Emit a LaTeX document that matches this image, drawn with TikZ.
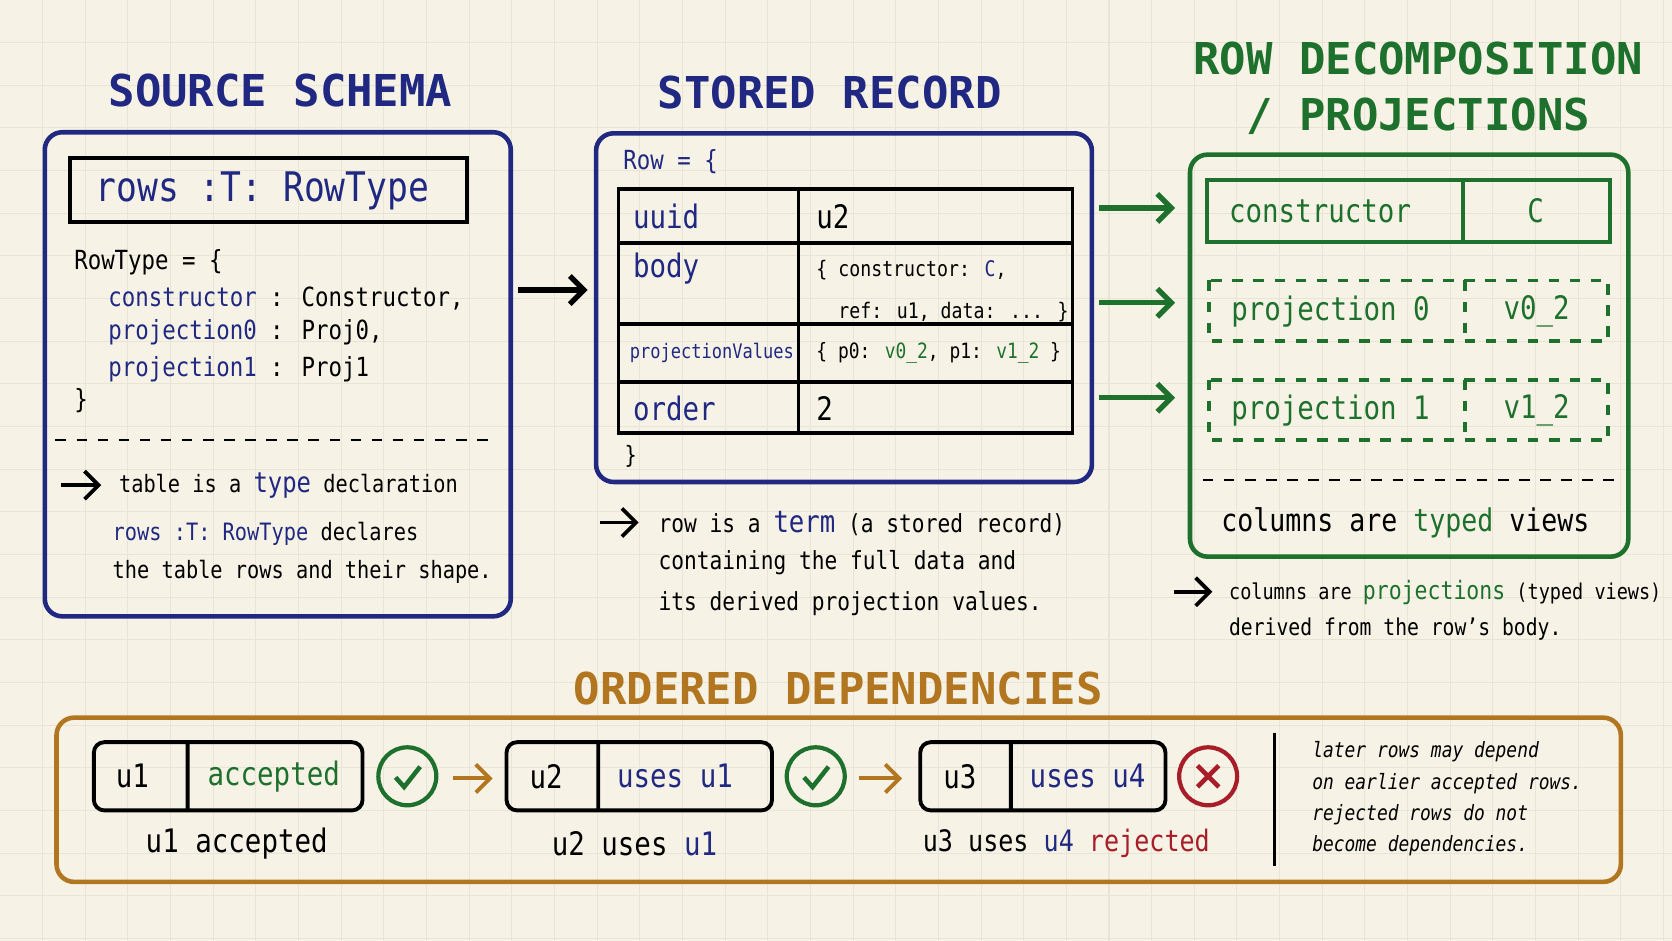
\documentclass[tikz,border=0pt]{standalone}
\usepackage{fontspec}
\setmainfont{DejaVu Sans Mono}[FakeStretch=0.85]
\newfontfamily\titlefont{DejaVu Sans Mono}
\usetikzlibrary{positioning,arrows.meta}

\definecolor{paper}{RGB}{246,243,230}
\definecolor{gridc}{RGB}{232,229,214}
\definecolor{navy}{RGB}{32,40,130}
\definecolor{leaf}{RGB}{30,112,45}
\definecolor{gold}{RGB}{178,118,32}
\definecolor{wine}{RGB}{168,30,40}

\tikzset{
  title/.style={font=\titlefont\bfseries\fontsize{12.5}{16}\selectfont, align=center},
  frame/.style={line width=1.3pt, rounded corners=5pt},
  body/.style={font=\fontsize{6.8}{8}\selectfont, anchor=west, inner sep=0pt},
  cell/.style={font=\fontsize{9.2}{11}\selectfont, anchor=west, inner sep=0pt},
  arr/.style={-{Straight Barb[length=4pt]}, line width=1.1pt},
  ring/.style={circle, draw, line width=1.2pt, minimum size=0.58cm, inner sep=0pt},
}

\begin{document}
\begin{tikzpicture}[x=0.010663cm, y=-0.010663cm]

	\fill[paper] (0,0) rectangle (1568,882);
	\useasboundingbox (0,0) rectangle (1568,882);
	\foreach \g in {40,80,...,1560} \draw[gridc, line width=0.3pt] (\g,0) -- (\g,882);
	\foreach \g in {40,80,...,880} \draw[gridc, line width=0.3pt] (0,\g) -- (1568,\g);

	% titles
	\node[title, text=navy] (tsrc) at (263,85) {SOURCE  SCHEMA};
	\node[title, text=navy] (trec) at (778,87) {STORED  RECORD};
	\node[title, text=leaf] (tdec) at (1330,83) {ROW  DECOMPOSITION\\/ PROJECTIONS};
	\node[title, text=gold] (tdep) at (786,646) {ORDERED  DEPENDENCIES};

	% source schema
	\draw[frame, navy] (42,124) rectangle (479,578);
	\draw[line width=1.1pt] (66,148) rectangle (438,208);
	\node[font=\fontsize{11.6}{14}\selectfont, text=navy] (decl) at (246,179) {rows  :T:  RowType};
	\node[body, font=\fontsize{7.5}{9}\selectfont] (rt0) at (69,246) {RowType = \{};
	\node[body, font=\fontsize{7.5}{9}\selectfont] (rt1) at (101,280) {\textcolor{navy}{constructor} : Constructor,};
	\node[body, font=\fontsize{7.5}{9}\selectfont] (rt2) at (101,312) {\textcolor{navy}{projection0} : Proj0,};
	\node[body, font=\fontsize{7.5}{9}\selectfont] (rt3) at (101,346) {\textcolor{navy}{projection1} : Proj1};
	\node[body, font=\fontsize{7.5}{9}\selectfont] (rt4) at (69,376) {\}};
	\draw[dashed, line width=0.6pt] (52,413) -- (465,413);
	\coordinate (sa) at (57,455);
	\node[body] (snote) at (111,455) {table is a \textcolor{navy}{\fontsize{8}{9}\selectfont type} declaration};
	\draw[arr] (sa) -- ++(38,0);
	\node[body] (sdec1) at (105,501) {\textcolor{navy}{rows :T: RowType} declares};
	\node[body] (sdec2) at (105,536) {the table rows and their shape.};

	\coordinate (big0) at (486,272);
	\coordinate (big1) at (551,272);
	\draw[arr, line width=1.5pt] (big0) -- (big1);

	% stored record
	\draw[frame, navy] (559,125) rectangle (1024,452);
	\node[body, text=navy, font=\fontsize{7.5}{9}\selectfont] (row) at (584,152) {Row = \{};
	\draw[line width=1pt] (580,177) rectangle (1006,406);
	\foreach \yy in {228,304,358} \draw[line width=1pt] (580,\yy) -- (1006,\yy);
	\draw[line width=1pt] (749,177) -- (749,406);
	\node[cell, text=navy] (kuid) at (593,203) {uuid};
	\node[cell] (vuid) at (765,203) {u2};
	\node[cell, text=navy] (kbody) at (593,252) {body};
	\node[body, font=\fontsize{6.1}{8}\selectfont, anchor=north west, align=left] (vbody) at (765,243) {\{ constructor: \textcolor{navy}{C},\\[4pt]\ \ ref: u1, data: ... \}};
	\node[body, text=navy, font=\fontsize{5.7}{7}\selectfont] (kproj) at (590,331) {projectionValues};
	\node[body, font=\fontsize{6}{8}\selectfont] (vproj) at (765,331) {\{ p0: \textcolor{leaf}{v0\_2}, p1: \textcolor{leaf}{v1\_2} \}};
	\node[cell, text=navy] (kord) at (593,383) {order};
	\node[cell] (vord) at (765,383) {2};
	\node[body] (rend) at (585,428) {\}};
	\coordinate (ra) at (563,490);
	\node[body, font=\fontsize{7.1}{9}\selectfont] (rn1) at (617,491) {row is a \textcolor{navy}{\fontsize{8.6}{10}\selectfont term} (a stored record)};
	\draw[arr] (ra) -- ++(36,0);
	\node[body, font=\fontsize{7.1}{9}\selectfont] (rn2) at (617,528) {containing the full data and};
	\node[body, font=\fontsize{7.1}{9}\selectfont] (rn3) at (617,566) {its derived projection values.};

	% decomposition
	\foreach \yy in {195,284,373} \draw[arr, leaf, line width=1.5pt] (1031,\yy) -- (1102,\yy);
	\draw[frame, leaf] (1116,145) rectangle (1527,522);
	\draw[leaf, line width=1.1pt] (1132,169) rectangle (1510,227) (1372,169) -- (1372,227);
	\draw[leaf, line width=1.1pt, dashed] (1134,263) rectangle (1508,320) (1374,263) -- (1374,320);
	\draw[leaf, line width=1.1pt, dashed] (1134,356) rectangle (1508,413) (1374,356) -- (1374,413);
	\node[cell, text=leaf] (cons) at (1152,198) {constructor};
	\node[cell, text=leaf, anchor=center] (cv) at (1440,198) {C};
	\node[cell, text=leaf] (p0) at (1154,292) {projection 0};
	\node[cell, text=leaf, anchor=center] (p0v) at (1441,292) {v0\_2};
	\node[cell, text=leaf] (p1) at (1154,385) {projection 1};
	\node[cell, text=leaf, anchor=center] (p1v) at (1441,385) {v1\_2};
	\draw[dashed, line width=0.6pt] (1128,450) -- (1514,450);
	\node[body, anchor=center, font=\fontsize{8.9}{10}\selectfont] (ctv) at (1318,490) {columns are \textcolor{leaf}{typed} views};
	\coordinate (ca) at (1101,555);
	\node[body, font=\fontsize{6.2}{8}\selectfont] (cn1) at (1152,556) {columns are \textcolor{leaf}{\fontsize{7.2}{9}\selectfont projections} (typed views)};
	\draw[arr] (ca) -- ++(36,0);
	\node[body, font=\fontsize{6.6}{8}\selectfont] (cn2) at (1152,590) {derived from the row's body.};

	% dependencies
	\draw[frame, gold] (53,673) rectangle (1520,827);
	\foreach \xa/\xb/\xc in {88/176/340, 475/561/724, 863/948/1093}
		\draw[line width=1.1pt, rounded corners=3pt] (\xa,696) rectangle (\xc,760) (\xb,696) -- (\xb,760);
	\node[cell] (d1) at (108,728) {u1};
	\node[cell, text=leaf] (d1s) at (194,728) {accepted};
	\node[cell] (d2) at (496,728) {u2};
	\node[cell, text=navy] (d2s) at (578,728) {uses u1};
	\node[cell] (d3) at (884,728) {u3};
	\node[cell, text=navy] (d3s) at (965,728) {uses u4};
	\node[ring, leaf] (ok1) at (382,728) {};
	\node[ring, leaf] (ok2) at (765,728) {};
	\node[ring, wine] (bad) at (1133,728) {};
	\foreach \n in {ok1,ok2}
		\draw[leaf, line width=1.3pt] ([shift={(-11,1)}]\n.center) -- ([shift={(-3,10)}]\n.center) -- ([shift={(12,-9)}]\n.center);
	\draw[wine, line width=1.3pt] ([shift={(-10,-10)}]bad.center) -- ([shift={(10,10)}]bad.center)
		([shift={(-10,10)}]bad.center) -- ([shift={(10,-10)}]bad.center);
	\coordinate (g1a) at (425,730); \coordinate (g1b) at (462,730);
	\coordinate (g2a) at (806,730); \coordinate (g2b) at (846,730);
	\draw[arr, gold] (g1a) -- (g1b);
	\draw[arr, gold] (g2a) -- (g2b);
	\node[cell, anchor=center] (l1) at (222,791) {u1  accepted};
	\node[cell, anchor=center] (l2) at (595,791) {u2 uses \textcolor{navy}{u1}};
	\node[cell, anchor=center, font=\fontsize{8.4}{10}\selectfont] (l3) at (1000,791) {u3 uses \textcolor{navy}{u4} \textcolor{wine}{rejected}};
	\draw[line width=1pt] (1195,687) -- (1195,812);
	\node[body, anchor=north west, align=left, font=\itshape\fontsize{6}{8.9}\selectfont] (later) at (1230,695)
		{later rows may depend\\on earlier accepted rows.\\rejected rows do not\\become dependencies.};

\end{tikzpicture}
\end{document}
